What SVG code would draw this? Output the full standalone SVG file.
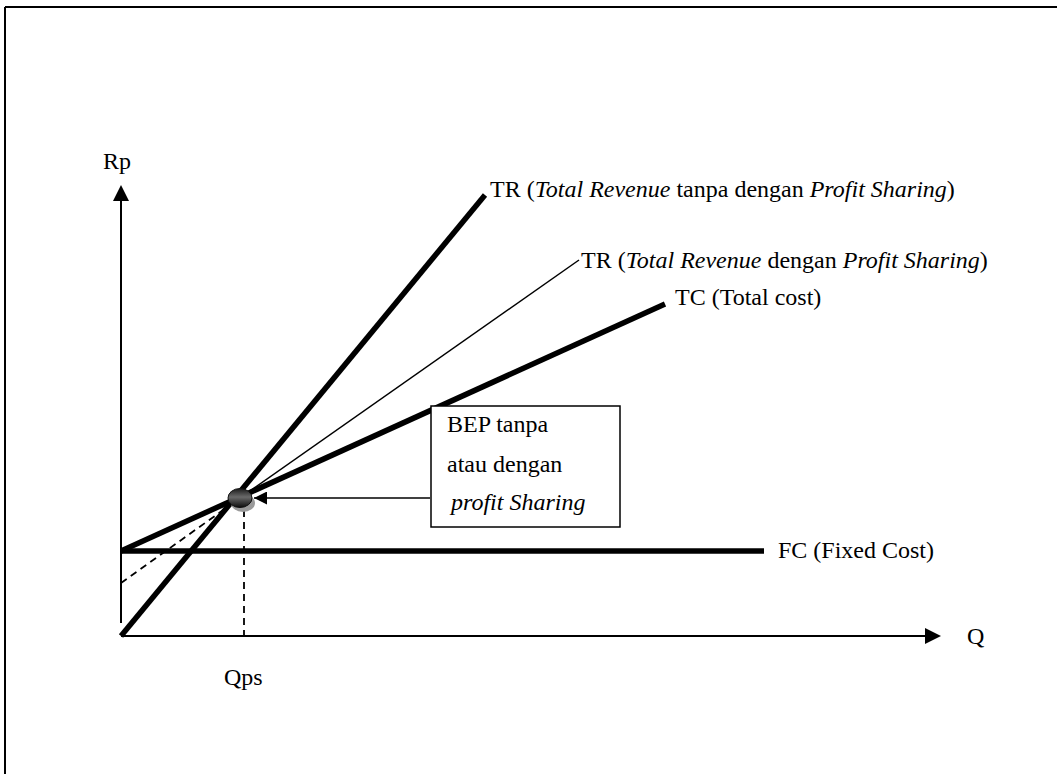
<svg xmlns="http://www.w3.org/2000/svg" width="1057" height="774" viewBox="0 0 1057 774">
  <defs>
    <style>
      text { font-family: "Liberation Serif", "Times New Roman", serif; font-size: 24px; fill: #000; }
      .it { font-style: italic; }
      .axis { stroke: #000; stroke-width: 2; fill: none; }
      .thick { stroke: #000; stroke-width: 5.5; fill: none; }
      .thin { stroke: #000; stroke-width: 1.5; fill: none; }
      .dash { stroke: #000; stroke-width: 1.8; stroke-dasharray: 7 5; fill: none; }
    </style>
    <marker id="arrowHead" viewBox="0 0 10 10" refX="10" refY="5" markerWidth="13" markerHeight="13" markerUnits="userSpaceOnUse" orient="auto">
      <path d="M0,0 L10,5 L0,10 Z" fill="#000"/>
    </marker>
    <linearGradient id="bepFill" x1="0" y1="0" x2="0" y2="1">
      <stop offset="0" stop-color="#1a1a1a"/>
      <stop offset="0.45" stop-color="#6a6a6a"/>
      <stop offset="1" stop-color="#0d0d0d"/>
    </linearGradient>
  </defs>

  <rect width="1057" height="774" fill="#fff"/>

  <!-- page frame -->
  <g id="frame">
    <line x1="5" y1="7" x2="1057" y2="7" stroke="#000" stroke-width="2"/>
    <line x1="5" y1="7" x2="5" y2="774" stroke="#000" stroke-width="2"/>
  </g>

  <!-- axes -->
  <g id="axes">
    <line x1="121" y1="623" x2="121" y2="190" class="axis"/>
    <path d="M113,201 L121,185 L129,201 Z" fill="#000"/>
    <line x1="121" y1="636" x2="930" y2="636" class="axis"/>
    <path d="M925,628 L941,636 L925,644 Z" fill="#000"/>
    <text x="103" y="169">Rp</text>
    <text x="967" y="644">Q</text>
    <text x="224" y="685">Qps</text>
  </g>

  <!-- curves -->
  <g id="connectors">
    <line x1="121" y1="551" x2="764" y2="551" class="thick"/>
    <line x1="121" y1="551" x2="665" y2="304" class="thick"/>
    <line x1="121" y1="636" x2="485" y2="195" class="thick"/>
    <line x1="240" y1="498" x2="579" y2="260" class="thin"/>
    <line x1="121" y1="583" x2="240" y2="498" class="dash"/>
    <line x1="244" y1="510" x2="244" y2="636" class="dash"/>
    <line x1="430" y1="498" x2="254" y2="498" stroke="#000" stroke-width="1.5" marker-end="url(#arrowHead)"/>
  </g>

  <!-- break-even point -->
  <g id="bep-point">
    <ellipse cx="243" cy="503" rx="12" ry="9" fill="#9a9a9a"/>
    <ellipse cx="240" cy="498" rx="12" ry="9.5" fill="url(#bepFill)" stroke="#111" stroke-width="1"/>
  </g>

  <!-- line labels -->
  <g id="label-tr-plain">
    <text x="490" y="197">TR (<tspan class="it">Total Revenue</tspan> tanpa dengan <tspan class="it">Profit Sharing</tspan>)</text>
  </g>
  <g id="label-tr-ps">
    <text x="581" y="268">TR (<tspan class="it">Total Revenue</tspan> dengan <tspan class="it">Profit Sharing</tspan>)</text>
  </g>
  <g id="label-tc">
    <text x="675" y="305">TC (Total cost)</text>
  </g>
  <g id="label-fc">
    <text x="778" y="558">FC (Fixed Cost)</text>
  </g>

  <!-- annotation box -->
  <g id="bep-box">
    <rect x="431" y="406" width="189" height="121" fill="#fff" stroke="#000" stroke-width="1.5"/>
    <text x="447" y="432">BEP tanpa</text>
    <text x="447" y="472">atau dengan</text>
    <text x="451" y="510" class="it">profit Sharing</text>
  </g>
</svg>
